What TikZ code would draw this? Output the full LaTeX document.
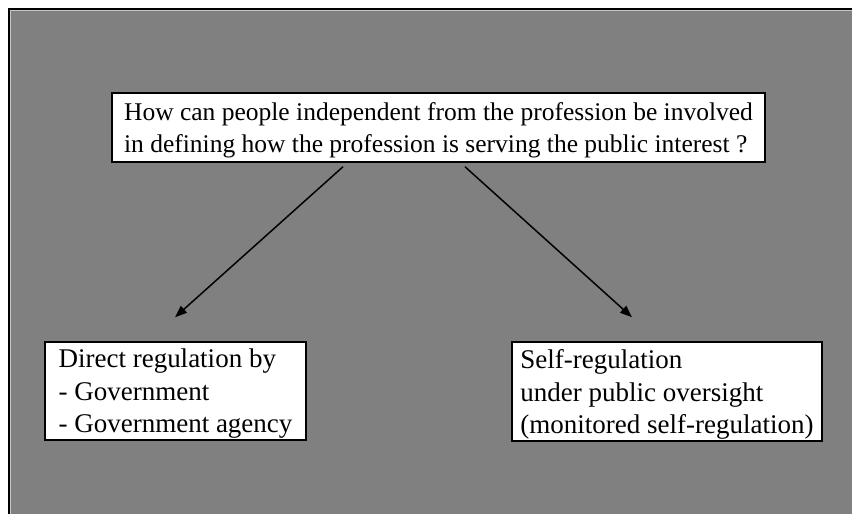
\documentclass[tikz,border=0pt]{standalone}
\usepackage{fontspec}
\setmainfont{Liberation Serif}
\usetikzlibrary{arrows.meta,calc}
\definecolor{panelgray}{RGB}{128,128,128}

\begin{document}
\begin{tikzpicture}[x=1pt,y=1pt,
    box/.style={draw=black, line width=1.5pt, fill=white, align=left, inner sep=0pt,
      text depth=-1pt, font=\fontsize{25.5}{32.5}\selectfont},
    option/.style={box, font=\fontsize{27}{32.5}\selectfont},
    link/.style={-{Triangle[length=12pt,width=9pt]}, line width=1.5pt}]
    % Background panel
    \useasboundingbox (0,0) rectangle (852,514);
    \fill[white] (0,0) rectangle (852,514);
    \fill[panelgray] (10,0) rectangle (852,504);
    \draw[gray!45, line width=0.8pt] (10.6,0) -- (10.6,503.4) -- (852,503.4);
    \draw[line width=2pt] (9,0) -- (9,505) -- (852,505);

    % Question
    \node[box, minimum width=653pt, minimum height=69pt] (question) at (438.5,386.5)
        {How can people independent from the profession be involved\\
         in defining how the profession is serving the public interest ?};

    % Options
    \node[option, minimum width=261pt, minimum height=98pt] (direct) at (175.5,123)
        {Direct regulation by\\- Government\\- Government agency};
    \node[option, minimum width=310pt, minimum height=99pt] (selfreg) at (667,122.5)
        {Self-regulation\\under public oversight\\(monitored self-regulation)};

    % Arrows
    \draw[link] ($(question.south)+(-95.5,-4)$) -- ($(direct.north)+(-0.5,24)$);
    \draw[link] ($(question.south)+(26.5,-4)$) -- ($(selfreg.north)+(-35,24)$);
\end{tikzpicture}
\end{document}
